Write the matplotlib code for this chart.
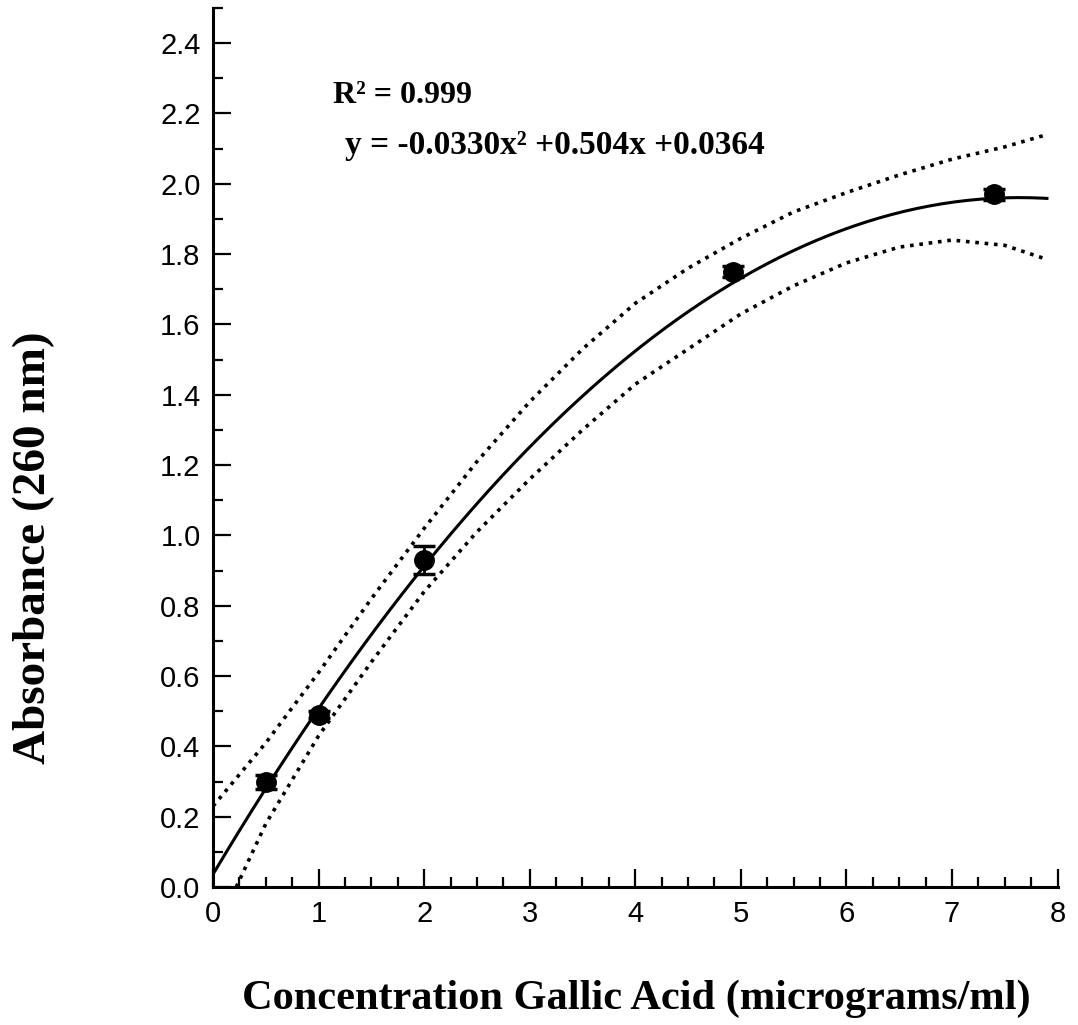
import matplotlib

matplotlib.use("Agg")

import matplotlib.pyplot as plt
import numpy as np
from matplotlib.ticker import MultipleLocator

# measured points (concentration, absorbance, error)
conc = [0.5, 1.0, 2.0, 4.93, 7.4]
absorb = [0.30, 0.49, 0.93, 1.75, 1.97]
absorb_err = [0.02, 0.01, 0.04, 0.015, 0.015]

# quadratic fit shown on the chart
fit_coef = [-0.0330, 0.504, 0.0364]
fit_range = [0.0, 7.9]

# dotted confidence band
upper_x = [0.0, 0.5, 1.0, 1.5, 2.0, 2.5, 3.0, 3.5, 4.0, 4.5, 5.0, 5.5, 6.0, 6.5, 7.0, 7.5, 7.9]
upper_y = [0.23, 0.41, 0.61, 0.82, 1.02, 1.21, 1.38, 1.53, 1.66, 1.76, 1.845, 1.92, 1.975, 2.025, 2.07, 2.105, 2.14]
lower_x = [0.22, 0.5, 1.0, 1.5, 2.0, 2.5, 3.0, 3.5, 4.0, 4.5, 5.0, 5.5, 6.0, 6.5, 7.0, 7.5, 7.9]
lower_y = [0.0, 0.18, 0.43, 0.64, 0.84, 1.01, 1.16, 1.30, 1.43, 1.53, 1.63, 1.71, 1.775, 1.82, 1.84, 1.825, 1.785]

r2_text = "R\u00b2 = 0.999"
eq_text = "y = -0.0330x\u00b2 +0.504x +0.0364"
x_label = "Concentration Gallic Acid (micrograms/ml)"
y_label = "Absorbance (260 nm)"

fig = plt.figure(figsize=(10.78, 10.25), dpi=100)
ax = fig.add_axes([0.1976, 0.1346, 0.7834, 0.8576])

fit_x = np.linspace(fit_range[0], fit_range[1], 200)
ax.plot(fit_x, np.polyval(fit_coef, fit_x), color="black", lw=2.2)
ax.plot(upper_x, upper_y, color="black", lw=2.6, linestyle=(0, (1, 1.6)))
ax.plot(lower_x, lower_y, color="black", lw=2.6, linestyle=(0, (1, 1.6)))
ax.errorbar(conc, absorb, yerr=absorb_err, fmt="o", color="black",
            markersize=14, capsize=8, elinewidth=2, capthick=2.5)

ax.set_xlim(0, 8)
ax.set_ylim(0, 2.5)
ax.xaxis.set_major_locator(MultipleLocator(1))
ax.xaxis.set_minor_locator(MultipleLocator(0.25))
ax.yaxis.set_minor_locator(MultipleLocator(0.1))
ax.set_yticks(np.arange(0, 2.41, 0.2))
ax.set_yticklabels([f"{v:.1f}" for v in np.arange(0, 2.41, 0.2)])

for side in ("top", "right"):
    ax.spines[side].set_visible(False)
for side in ("left", "bottom"):
    ax.spines[side].set_linewidth(2.2)

ax.tick_params(which="major", direction="in", length=13, width=1.6,
               labelsize=21, pad=9)
ax.tick_params(which="minor", direction="in", length=7, width=1.6)
for lbl in ax.get_xticklabels() + ax.get_yticklabels():
    lbl.set_fontfamily("Liberation Sans")

serif_bold = dict(family="Liberation Serif", weight="bold", color="black")
ax.text(1.14, 2.23, r2_text, fontsize=23, **serif_bold)
ax.text(1.25, 2.085, eq_text, fontsize=24, **serif_bold)

fig.text(0.59, 0.026, x_label, ha="center", va="center", fontsize=30.5, **serif_bold)
fig.text(0.031, 0.466, y_label, ha="center", va="center", rotation=90,
         fontsize=34, **serif_bold)

fig.savefig("out.png", dpi=100)
plt.close(fig)
